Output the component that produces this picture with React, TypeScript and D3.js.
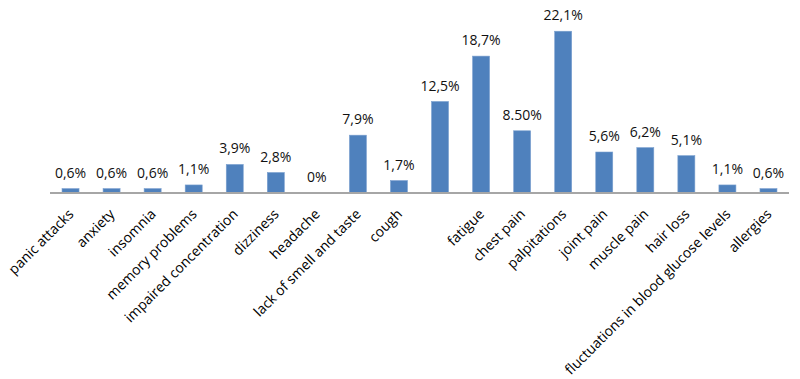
import React from "react";
import * as d3 from "d3";

const categories: string[] = [
  "panic attacks",
  "anxiety",
  "insomnia",
  "memory problems",
  "impaired concentration",
  "dizziness",
  "headache",
  "lack of smell and taste",
  "cough",
  "",
  "fatigue",
  "chest pain",
  "palpitations",
  "joint pain",
  "muscle pain",
  "hair loss",
  "fluctuations in blood glucose levels",
  "allergies",
];

const values: number[] = [0.6, 0.6, 0.6, 1.1, 3.9, 2.8, 0, 7.9, 1.7, 12.5, 18.7, 8.5, 22.1, 5.6, 6.2, 5.1, 1.1, 0.6];

const valueLabels: string[] = [
  "0,6%", "0,6%", "0,6%", "1,1%", "3,9%", "2,8%", "0%", "7,9%", "1,7%",
  "12,5%", "18,7%", "8.50%", "22,1%", "5,6%", "6,2%", "5,1%", "1,1%", "0,6%",
];

const W = 800;
const H = 379;
const left = 50;
const right = 789;
const baseY = 193;
const topY = 10;
const FONT = "'Open Sans', Lato, sans-serif";

export default function App() {
  const idx = categories.map((_, i) => String(i));
  const x = d3.scaleBand<string>().domain(idx).range([left, right]).padding(0);
  const y = d3.scaleLinear().domain([0, 25]).range([baseY, topY]);
  const barW = 17;

  return (
    <svg
      width={W}
      height={H}
      style={{ position: "absolute", left: 0, top: 0, background: "#fff" }}
      fontFamily={FONT}
    >
      <rect x={0} y={0} width={W} height={H} fill="#fff" />
      {values.map((v, i) => {
        const cx = (x(String(i)) as number) + x.bandwidth() / 2;
        const yt = y(v);
        return (
          <g key={i}>
            {v > 0 && (
              <rect
                x={cx - barW / 2}
                y={yt}
                width={barW}
                height={baseY - yt}
                fill="#4F81BD"
                stroke="#7BA0CF"
                strokeWidth={0.6}
              />
            )}
            <text
              x={cx}
              y={yt - 11}
              textAnchor="middle"
              fontSize={14}
              fill="#111"
            >
              {valueLabels[i]}
            </text>
            {categories[i] && (
              <text
                transform={`translate(${cx + 4},${baseY + 22}) rotate(-45)`}
                textAnchor="end"
                fontSize={14}
                fill="#000"
              >
                {categories[i]}
              </text>
            )}
          </g>
        );
      })}
      <line x1={left} x2={right} y1={baseY} y2={baseY} stroke="#A6A6A6" strokeWidth={2} />
    </svg>
  );
}
